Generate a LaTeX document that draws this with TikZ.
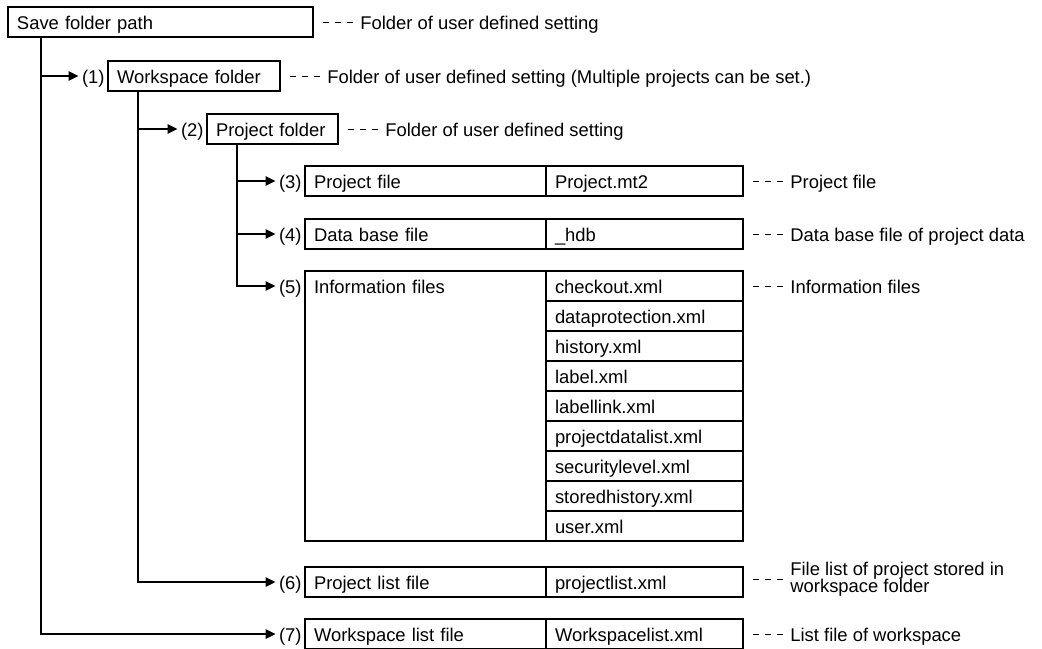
\documentclass[tikz,border=0pt]{standalone}
\usepackage{fontspec}
\setmainfont{Liberation Sans}
\usetikzlibrary{arrows.meta, positioning}

\begin{document}
\begin{tikzpicture}[x=0.5pt, y=-0.5pt, font=\fontsize{9.2}{10.8}\selectfont,
    txt/.style={text height=7.4pt, text depth=0.2pt},
    box/.style={draw, line width=0.65pt, outer sep=0pt, inner xsep=4.5pt, inner ysep=0pt,
        minimum height=15pt, txt, align=left, anchor=north west},
    lcell/.style={box, text width=111.5pt},
    rcell/.style={box, text width=89.5pt},
    num/.style={inner xsep=1.5pt, inner ysep=0pt, anchor=east, txt},
    desc/.style={inner xsep=3.5pt, inner ysep=0pt, anchor=west, align=left},
    note/.style={desc, txt},
    arr/.style={line width=1.2pt, -{Triangle[length=5pt, width=4.5pt]}},
    dsh/.style={line width=0.5pt, dash pattern=on 3pt off 3pt}]
    \useasboundingbox (0, 0) rectangle (1042, 648);

    % Folders
    \node[box, text width=143.5pt] (save) at (8, 7) {Save folder path};
    \node[box, text width=77pt] (work) at (108, 61) {Workspace folder};
    \node[box, text width=56.5pt] (proj) at (207, 114) {Project folder};

    % Files
    \node[lcell] (pf) at (305, 166) {Project file};
    \node[rcell, right=0pt of pf] (pfx) {Project.mt2};
    \node[lcell] (db) at (305, 219) {Data base file};
    \node[rcell, right=0pt of db] (dbx) {\_hdb};
    \node[lcell, draw=none] (info) at (305, 271) {Information files};
    \node[rcell, right=0pt of info] (c1) {checkout.xml};
    \foreach \f [count=\i from 2] in {dataprotection.xml, history.xml, label.xml,
        labellink.xml, projectdatalist.xml, securitylevel.xml, storedhistory.xml, user.xml} {
        \pgfmathtruncatemacro\j{\i-1}
        \node[rcell, below=0pt of c\j] (c\i) {\f};
    }
    \draw[line width=0.65pt] (info.north west) rectangle (c9.south west);
    \node[lcell] (pl) at (305, 567) {Project list file};
    \node[rcell, right=0pt of pl] (plx) {projectlist.xml};
    \node[lcell] (wl) at (305, 619) {Workspace list file};
    \node[rcell, right=0pt of wl] (wlx) {Workspacelist.xml};

    % Numbers
    \node[num] (n1) at (work.west) {(1)};
    \node[num] (n2) at (proj.west) {(2)};
    \node[num] (n3) at (pf.west) {(3)};
    \node[num] (n4) at (db.west) {(4)};
    \node[num] (n5) at (info.west) {(5)};
    \node[num] (n6) at (pl.west) {(6)};
    \node[num] (n7) at (wl.west) {(7)};

    % Tree lines
    \coordinate (t0) at ([xshift=16.5pt] save.south west);
    \coordinate (t1) at ([xshift=15pt] work.south west);
    \coordinate (t2) at ([xshift=15pt] proj.south west);
    \draw[arr] (t0) |- (n7.west);
    \draw[arr] (t0 |- n1.west) -- (n1.west);
    \draw[arr] (t1) |- (n6.west);
    \draw[arr] (t1 |- n2.west) -- (n2.west);
    \draw[arr] (t2) |- (n5.west);
    \draw[arr] (t2 |- n3.west) -- (n3.west);
    \draw[arr] (t2 |- n4.west) -- (n4.west);

    % Notes
    \node[note, right=20pt of save] (d0) {Folder of user defined setting};
    \draw[dsh] ([xshift=5pt] save.east) -- (d0.west);
    \node[note, right=20pt of work] (d1) {Folder of user defined setting (Multiple projects can be set.)};
    \draw[dsh] ([xshift=5pt] work.east) -- (d1.west);
    \node[note, right=20pt of proj] (d2) {Folder of user defined setting};
    \draw[dsh] ([xshift=5pt] proj.east) -- (d2.west);
    \node[note, right=20pt of pfx] (d3) {Project file};
    \draw[dsh] ([xshift=5pt] pfx.east) -- (d3.west);
    \node[note, right=20pt of dbx] (d4) {Data base file of project data};
    \draw[dsh] ([xshift=5pt] dbx.east) -- (d4.west);
    \node[note, right=20pt of c1] (d5) {Information files};
    \draw[dsh] ([xshift=5pt] c1.east) -- (d5.west);
    \node[desc, right=20pt of plx, yshift=1.5pt, font={\fontsize{9.2}{8.6}\selectfont\lineskiplimit=-5pt}] (d6)
        {File list of project stored in\\workspace folder};
    \draw[dsh] (d6.west) -- ++(-15pt, 0);
    \node[note, right=20pt of wlx] (d7) {List file of workspace};
    \draw[dsh] ([xshift=5pt] wlx.east) -- (d7.west);
\end{tikzpicture}
\end{document}
